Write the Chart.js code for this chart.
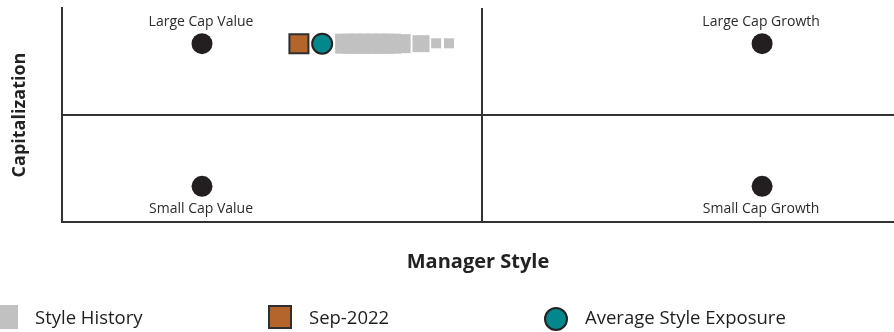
<!DOCTYPE html>
<html>
<head>
<meta charset="utf-8">
<script src="https://cdn.jsdelivr.net/npm/chart.js@4"></script>
<style>
  body { margin: 0; background: #fff; }
  #wrap { position: relative; width: 894px; height: 332px; overflow: hidden; }
  .legend { position: absolute; font-family: "Open Sans", sans-serif; font-size: 18.5px; color: #1e1e1e; line-height: 24px; top: 305px; }
  .sw { position: absolute; box-sizing: border-box; }
</style>
</head>
<body>
<div id="wrap">
  <canvas id="styleMap" width="894" height="332"></canvas>
  <div class="sw" style="left:-6px;top:305px;width:24px;height:24px;background:#c1c1c1;"></div>
  <div class="legend" style="left:35px;">Style History</div>
  <div class="sw" style="left:268px;top:305px;width:24px;height:24px;background:#b3652b;border:2px solid #2f2f2f;"></div>
  <div class="legend" style="left:309px;">Sep-2022</div>
  <div class="sw" style="left:544px;top:307px;width:24px;height:24px;background:#02888c;border:2px solid #222;border-radius:50%;"></div>
  <div class="legend" style="left:585px;">Average Style Exposure</div>
</div>
<script>
// style corners
const cornerNames = ["Large Cap Value", "Large Cap Growth", "Small Cap Value", "Small Cap Growth"];
const cornerX = [-1, 1, -1, 1];
const cornerY = [1, 1, -1, -1];

// style history (oldest last)
const historyX = [-0.489, -0.464, -0.436, -0.407, -0.379, -0.35, -0.325, -0.289, -0.218, -0.164, -0.118];
const historyY = [1.0, 1.0, 1.0, 1.0, 1.0, 1.0, 1.0, 1.0, 1.0, 1.005, 1.005];
const historySide = [20, 20, 20, 20, 20, 20, 20, 19, 17, 10, 10];

const currentX = [-0.654];
const currentY = [1.0];
const averageX = [-0.571];
const averageY = [1.0];

const toPoints = (xs, ys) => xs.map((x, i) => ({ x: x, y: ys[i] }));

const cornerLabels = {
  id: "cornerLabels",
  afterDatasetsDraw(chart) {
    const { ctx, scales } = chart;
    ctx.save();
    ctx.font = "14px 'Open Sans', sans-serif";
    ctx.fillStyle = "#2b2b2b";
    ctx.textAlign = "center";
    ctx.textBaseline = "middle";
    cornerNames.forEach((name, i) => {
      const px = scales.x.getPixelForValue(cornerX[i]) - 1;
      const py = scales.y.getPixelForValue(cornerY[i]) + (cornerY[i] > 0 ? -22 : 23);
      ctx.fillText(name, px, py);
    });
    ctx.restore();
  },
};

const onlyZero = (scale) => {
  scale.ticks = [{ value: 0 }];
};

const ctx = document.getElementById("styleMap").getContext("2d");
const chart = new Chart(ctx, {
  type: "scatter",
  data: {
    datasets: [
      {
        label: "Average Style Exposure",
        data: toPoints(averageX, averageY),
        pointStyle: "circle",
        pointRadius: 10,
        backgroundColor: "#02888c",
        borderColor: "#222",
        borderWidth: 2,
        order: 1,
      },
      {
        label: "Sep-2022",
        data: toPoints(currentX, currentY),
        pointStyle: "rect",
        pointRadius: 19 / Math.SQRT2,
        backgroundColor: "#b3652b",
        borderColor: "#2f2f2f",
        borderWidth: 2,
        order: 2,
      },
      {
        label: "Style History",
        data: toPoints(historyX, historyY),
        pointStyle: "rect",
        pointRadius: historySide.map((s) => s / Math.SQRT2),
        backgroundColor: "#c1c1c1",
        borderWidth: 0,
        order: 3,
      },
      {
        label: "Corners",
        data: toPoints(cornerX, cornerY),
        pointStyle: "circle",
        pointRadius: 10.5,
        backgroundColor: "#231f20",
        borderWidth: 0,
        order: 4,
      },
    ],
  },
  options: {
    responsive: false,
    animation: false,
    events: [],
    layout: {
      autoPadding: false,
      padding: { left: 0, top: 8, right: 0, bottom: 58 },
    },
    plugins: {
      legend: { display: false },
      tooltip: { enabled: false },
    },
    scales: {
      x: {
        type: "linear",
        min: -1.5,
        max: 1.471,
        afterBuildTicks: onlyZero,
        ticks: { display: false },
        grid: { color: "#333", lineWidth: 2, drawTicks: false },
        border: { color: "#333", width: 2 },
        title: {
          display: true,
          text: "Manager Style",
          color: "#222",
          font: { family: "'Open Sans', sans-serif", size: 20, weight: "bold", lineHeight: 1.2 },
          padding: { top: 28, bottom: 0 },
        },
      },
      y: {
        type: "linear",
        min: -1.5,
        max: 1.5,
        afterBuildTicks: onlyZero,
        ticks: { display: false },
        grid: { color: "#333", lineWidth: 2, drawTicks: false },
        border: { color: "#333", width: 2 },
        title: {
          display: true,
          text: "Capitalization",
          color: "#222",
          font: { family: "'Open Sans', sans-serif", size: 18, weight: "bold", lineHeight: 1.2 },
          padding: { top: 9.2, bottom: 31.2 },
        },
      },
    },
  },
  plugins: [cornerLabels],
});
</script>
</body>
</html>
